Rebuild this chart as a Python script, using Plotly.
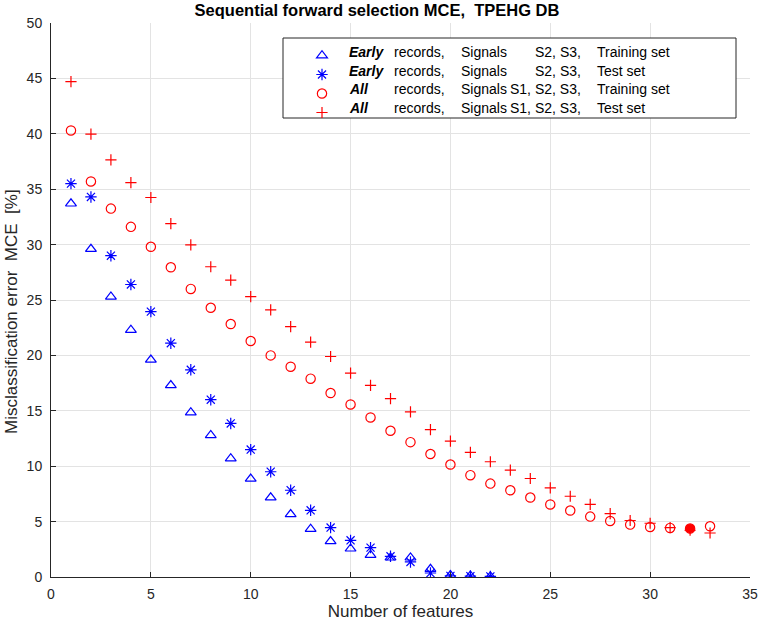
import plotly.graph_objects as go

# number of features in the model
n_early = list(range(1, 23))
n_all = list(range(1, 34))

# misclassification error MCE [%]
early_train = [33.7, 29.6, 25.3, 22.3, 19.6, 17.3, 14.85, 12.8, 10.7, 8.86, 7.17,
               5.66, 4.34, 3.22, 2.56, 1.99, 1.75, 1.75, 0.72, 0.15, 0.12, 0.05]
early_test = [35.5, 34.3, 29.0, 26.4, 23.95, 21.1, 18.7, 16.0, 13.86, 11.5, 9.5,
              7.83, 6.02, 4.46, 3.31, 2.65, 1.87, 1.36, 0.36, 0.1, 0.08, 0.05]
all_train = [40.3, 35.7, 33.25, 31.6, 29.8, 27.95, 26.0, 24.3, 22.83, 21.3, 20.0,
             18.98, 17.9, 16.6, 15.57, 14.4, 13.2, 12.17, 11.1, 10.15, 9.19, 8.43,
             7.83, 7.17, 6.55, 6.0, 5.45, 5.06, 4.73, 4.52, 4.43, 4.37, 4.58]
all_test = [44.7, 39.97, 37.65, 35.6, 34.25, 31.9, 29.97, 28.0, 26.8, 25.3, 24.1,
            22.6, 21.2, 19.9, 18.4, 17.3, 16.1, 14.9, 13.3, 12.26, 11.24, 10.4,
            9.64, 8.89, 8.04, 7.29, 6.55, 5.72, 5.1, 4.85, 4.46, 4.22, 3.97]
best_n = 32  # selected model, drawn with a filled marker

legend_who = ["Early", "Early", "All", "All"]
legend_sig = ["S2, S3,", "S2, S3,", "S1, S2, S3,", "S1, S2, S3,"]
legend_set = ["Training set", "Test set", "Training set", "Test set"]

FONT = "Liberation Sans"
BLUE = "#0000ff"
RED = "#ff0000"

fig = go.Figure()


def add_series(x, y, symbol, size, color, rank):
    fig.add_trace(go.Scatter(
        x=x, y=y, mode="markers", name="\u00a0", legendrank=rank,
        marker=dict(symbol=symbol, size=size, color=color,
                    line=dict(width=1.2, color=color)),
    ))


add_series(n_early, early_train, "triangle-up-open", 9.5, BLUE, 1)
add_series(n_early, early_test, "asterisk-open", 9.5, BLUE, 2)
# test set first so the filled training marker sits on top of it
add_series(n_all, all_test, "cross-thin-open", 8, RED, 4)
add_series(n_all, all_train,
           ["circle" if n == best_n else "circle-open" for n in n_all], 9.3, RED, 3)

# plot area in pixels (used to place the hand made legend box)
L, R, T, B = 51, 750, 23, 577
W, H = R - L, B - T


def px(x):
    return (x - L) / W


def py(y):
    return (B - y) / H


fig.add_shape(type="rect", xref="paper", yref="paper",
              x0=px(283), x1=px(736), y0=py(118), y1=py(38),
              line=dict(color="#262626", width=1), fillcolor="white", layer="above")

rows_y = [51.7, 70.7, 89.3, 108.3]
txt = dict(xref="paper", yref="paper", showarrow=False, yanchor="middle",
           font=dict(family=FONT, size=14, color="black"))
for i, yy in enumerate(rows_y):
    fig.add_annotation(x=px(346.5), y=py(yy), xanchor="left",
                       text="<b><i>%s</i></b>" % legend_who[i], **txt)
    fig.add_annotation(x=px(391.5), y=py(yy), xanchor="left", text="records,", **txt)
    fig.add_annotation(x=px(459), y=py(yy), xanchor="left", text="Signals", **txt)
    fig.add_annotation(x=px(583), y=py(yy), xanchor="right", text=legend_sig[i], **txt)
    fig.add_annotation(x=px(595), y=py(yy), xanchor="left", text=legend_set[i], **txt)

# y axis label, sitting a little below the middle as in the original
fig.add_annotation(x=px(11), y=py(312), xref="paper", yref="paper",
                   showarrow=False, textangle=-90, xanchor="center", yanchor="middle",
                   text="Misclassification error \u00a0MCE \u00a0[%]",
                   font=dict(family=FONT, size=17, color="#262626"))

axis = dict(showline=True, linecolor="#262626", linewidth=1, mirror=False,
            ticks="inside", ticklen=5, tickcolor="#262626", tickwidth=1,
            showgrid=True, gridcolor="#e3e3e3", gridwidth=1, zeroline=False,
            tickfont=dict(family=FONT, size=14, color="#262626"))

fig.update_xaxes(range=[0, 35], dtick=5, ticklabelstandoff=4, **axis,
                 title=dict(text="Number of features", standoff=3,
                            font=dict(family=FONT, size=17, color="#262626")))
fig.update_yaxes(range=[0, 50], dtick=5, ticklabelstandoff=5, **axis)

fig.update_layout(
    width=760, height=624,
    margin=dict(l=L, r=760 - R, t=T, b=624 - B, autoexpand=False),
    plot_bgcolor="white", paper_bgcolor="white",
    title=dict(text="<b>Sequential forward selection MCE, \u00a0TPEHG DB</b>",
               x=px(377), xref="paper", xanchor="center",
               y=1 - 10 / 624, yref="container", yanchor="middle",
               font=dict(family=FONT, size=16.5, color="black")),
    showlegend=True,
    legend=dict(x=px(302), y=py(41), xanchor="left", yanchor="top",
                bgcolor="rgba(0,0,0,0)", borderwidth=0,
                font=dict(family=FONT, size=12), tracegroupgap=0),
)

# the page's default body margin would push the figure 8px off the window
fig.write_html("out.html", config={"displayModeBar": False},
               post_script="document.body.style.margin='0';")
